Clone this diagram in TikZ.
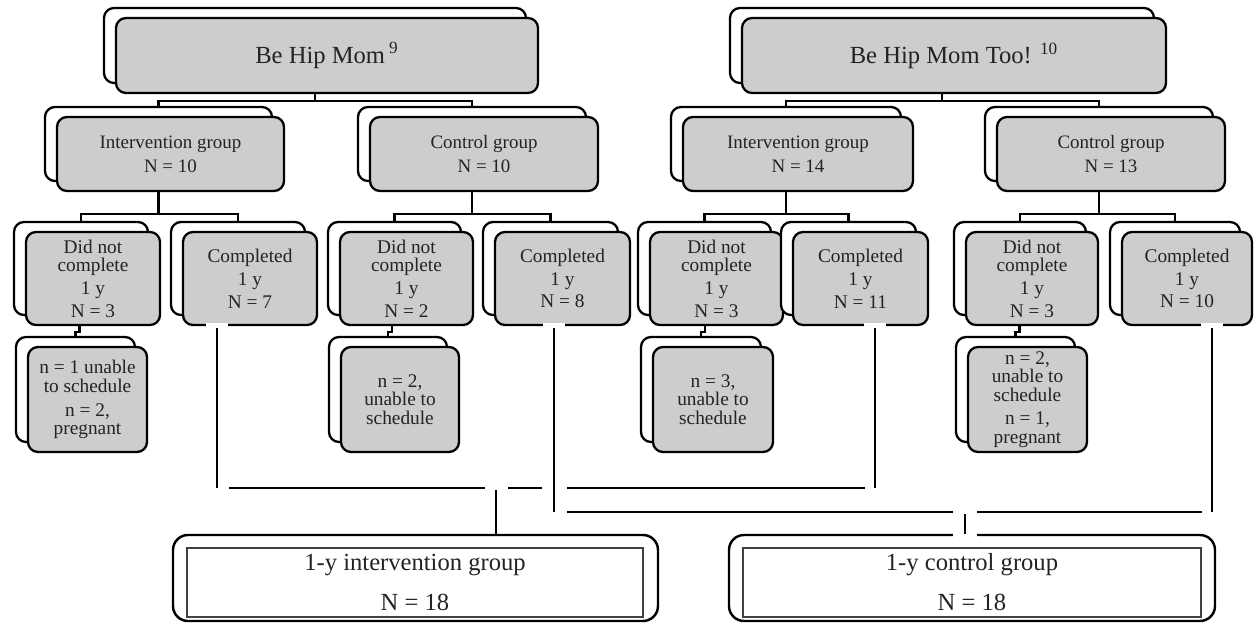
\documentclass[tikz,border=0pt]{standalone}
\usepackage{fontspec}
\setmainfont{Liberation Serif}
\usetikzlibrary{calc}
\definecolor{boxfill}{RGB}{205,205,205}
\definecolor{txt}{RGB}{35,35,35}
\tikzset{
  frontbox/.style={draw=black, fill=boxfill, line width=1.3pt, rounded corners=0.2cm, inner sep=0pt, align=center, text=txt},
  backbox/.style={draw=black, fill=white, line width=1.3pt, rounded corners=0.2cm, inner sep=0pt},
  conn/.style={draw=black, line width=1.2pt},
  gapfill/.style={fill=white, draw=none},
  fontA/.style={font=\fontsize{14}{17}\selectfont},
  fontB/.style={font=\fontsize{10.8}{13}\selectfont},
  fontC/.style={font=\fontsize{11}{13}\selectfont},
  outerbox/.style={draw=black, fill=white, line width=1.4pt, rounded corners=0.3cm, inner sep=0pt},
  innerbox/.style={draw=black!75, line width=1pt, inner sep=0pt, align=center, text=txt, font=\fontsize{14}{17}\selectfont},
}
% name, x1, y1, x2, y2 (front box, in pixels), style, text
\newcommand\dbox[7]{%
  \node[backbox, minimum width={(#4-#2)*0.02cm}, minimum height={(#5-#3)*0.02cm}]
    (#1b) at ({(#2+#4)/2-12},{(#3+#5)/2-10}) {};
  \node[frontbox, #6, minimum width={(#4-#2)*0.02cm}, minimum height={(#5-#3)*0.02cm}]
    (#1) at ({(#2+#4)/2},{(#3+#5)/2}) {#7};
}
\newcommand\plainbox[6]{%
  \node[#6, minimum width={(#4-#2)*0.02cm}, minimum height={(#5-#3)*0.02cm}]
    (#1) at ({(#2+#4)/2},{(#3+#5)/2})}
\begin{document}
\begin{tikzpicture}[x=0.02cm,y=-0.02cm]
\useasboundingbox (0,0) rectangle (1254,625);
% level 1
\dbox{bhm}{116}{18}{538}{93}{fontA}{Be Hip Mom\,\textsuperscript{9}}
\dbox{bhmt}{742}{18}{1166}{93}{fontA}{Be Hip Mom Too! \textsuperscript{10}}
% level 2
\dbox{ig1}{57}{117}{284}{191}{fontB}{Intervention group\\[0.7pt]N = 10}
\dbox{cg1}{370}{117}{598}{191}{fontB}{Control group\\[0.7pt]N = 10}
\dbox{ig2}{683}{117}{913}{191}{fontB}{Intervention group\\[0.7pt]N = 14}
\dbox{cg2}{997}{117}{1225}{191}{fontB}{Control group\\[0.7pt]N = 13}
% level 3
\dbox{d1}{26}{232}{160}{325}{fontC}{Did not\\[-2.5pt]complete\\1 y\\N = 3}
\dbox{c1}{183}{232}{317}{325}{fontC}{Completed\\1 y\\N = 7}
\dbox{d2}{340}{232}{473}{325}{fontC}{Did not\\[-2.5pt]complete\\1 y\\N = 2}
\dbox{c2}{495}{232}{630}{325}{fontC}{Completed\\1 y\\N = 8}
\dbox{d3}{650}{232}{783}{325}{fontC}{Did not\\[-2.5pt]complete\\1 y\\N = 3}
\dbox{c3}{793}{232}{928}{325}{fontC}{Completed\\1 y\\N = 11}
\dbox{d4}{966}{232}{1098}{325}{fontC}{Did not\\[-2.5pt]complete\\1 y\\N = 3}
\dbox{c4}{1122}{232}{1252}{325}{fontC}{Completed\\1 y\\N = 10}
% reasons
\dbox{r1}{28}{347}{147}{452}{fontC}{n = 1 unable\\[-2.5pt]to schedule\\[0.7pt]n = 2,\\[-2.5pt]pregnant}
\dbox{r2}{341}{347}{459}{452}{fontC}{n = 2,\\[-2.5pt]unable to\\[-2.5pt]schedule}
\dbox{r3}{653}{347}{773}{452}{fontC}{n = 3,\\[-2.5pt]unable to\\[-2.5pt]schedule}
\dbox{r4}{968}{347}{1087}{452}{fontC}{n = 2,\\[-2.5pt]unable to\\[-2.5pt]schedule\\[0.5pt]n = 1,\\[-2.5pt]pregnant}
% bottom groups
\plainbox{bi}{173}{535}{658}{621}{outerbox} {};
\plainbox{bii}{187}{548}{643}{617}{innerbox} {1-y intervention group\\[5.8pt]N = 18};
\plainbox{bc}{729}{535}{1215}{621}{outerbox} {};
\plainbox{bci}{743}{548}{1201}{617}{innerbox} {1-y control group\\[5.8pt]N = 18};
% level 1 -> 2
\draw[conn] (bhmb.south |- bhm.south) -- ++(0,7) coordinate (j1);
\draw[conn] (ig1b.north) |- (j1) -| (cg1b.north);
\draw[conn] (bhmtb.south |- bhmt.south) -- ++(0,7) coordinate (j1r);
\draw[conn] (ig2b.north) |- (j1r) -| (cg2b.north);
% level 2 -> 3
\draw[conn] (ig1b.south |- ig1.south) -- ++(0,22) coordinate (j2a);
\draw[conn] (d1b.north) |- (j2a) -| (c1b.north);
\draw[conn] (cg1b.south |- cg1.south) -- ++(0,22) coordinate (j2b);
\draw[conn] (d2b.north) |- (j2b) -| (c2b.north);
\draw[conn] (ig2b.south |- ig2.south) -- ++(0,22) coordinate (j2c);
\draw[conn] (d3b.north) |- (j2c) -| (c3b.north);
\draw[conn] (cg2b.south |- cg2.south) -- ++(0,22) coordinate (j2d);
\draw[conn] (d4b.north) |- (j2d) -| (c4b.north);
% did not complete -> reasons
\draw[conn] ($(r1b.north |- d1.south)+(4,0)$) -- ++(0,6) -| (r1b.north);
\draw[conn] ($(r2b.north |- d2.south)+(4,0)$) -- ++(0,6) -| (r2b.north);
\draw[conn] ($(r3b.north |- d3.south)+(4,0)$) -- ++(0,6) -| (r3b.north);
\draw[conn] ($(r4b.north |- d4.south)+(4,0)$) -- ++(0,6) -| (r4b.north);
% completed -> 1-y groups
\coordinate (yI) at (0,488);
\coordinate (yC) at (0,512);
\coordinate (o1) at ($(c1.south west)+(35,0)$);
\coordinate (o2) at ($(c2.south west)+(60,0)$);
\coordinate (o3) at ($(c3.south west)+(83,0)$);
\coordinate (o4) at ($(c4.south west)+(91,0)$);
\coordinate (tI) at (496,488);
\coordinate (tC) at (965,512);
\foreach \o in {o1,o2,o3,o4}{\fill[gapfill] ($(\o)+(-11,-3)$) rectangle ($(\o)+(11,3)$);}
\fill[gapfill] ($(tC |- bc.north)+(-12,-3)$) rectangle ($(tC |- bc.north)+(12,3)$);
% intervention line
\draw[conn] ($(o1)+(0,2)$) -- (o1 |- yI);
\draw[conn] ($(o1 |- yI)+(12,0)$) -- ($(tI)+(-11,0)$);
\draw[conn] ($(tI)+(12,0)$) -- ($(o2 |- yI)+(-12,0)$);
\draw[conn] ($(o2 |- yI)+(13,0)$) -- ($(o3 |- yI)+(-10,0)$);
\draw[conn] ($(o3)+(0,2)$) -- (o3 |- yI);
\draw[conn] ($(tI)+(0,2)$) -- (tI |- bi.north);
% control line
\draw[conn] ($(o2)+(0,2)$) -- (o2 |- yC);
\draw[conn] ($(o2 |- yC)+(13,0)$) -- ($(tC)+(-12,0)$);
\draw[conn] ($(tC)+(12,0)$) -- ($(o4 |- yC)+(-10,0)$);
\draw[conn] ($(o4)+(0,2)$) -- (o4 |- yC);
\draw[conn] ($(tC)+(0,2)$) -- (tC |- bc.north);
\end{tikzpicture}
\end{document}
